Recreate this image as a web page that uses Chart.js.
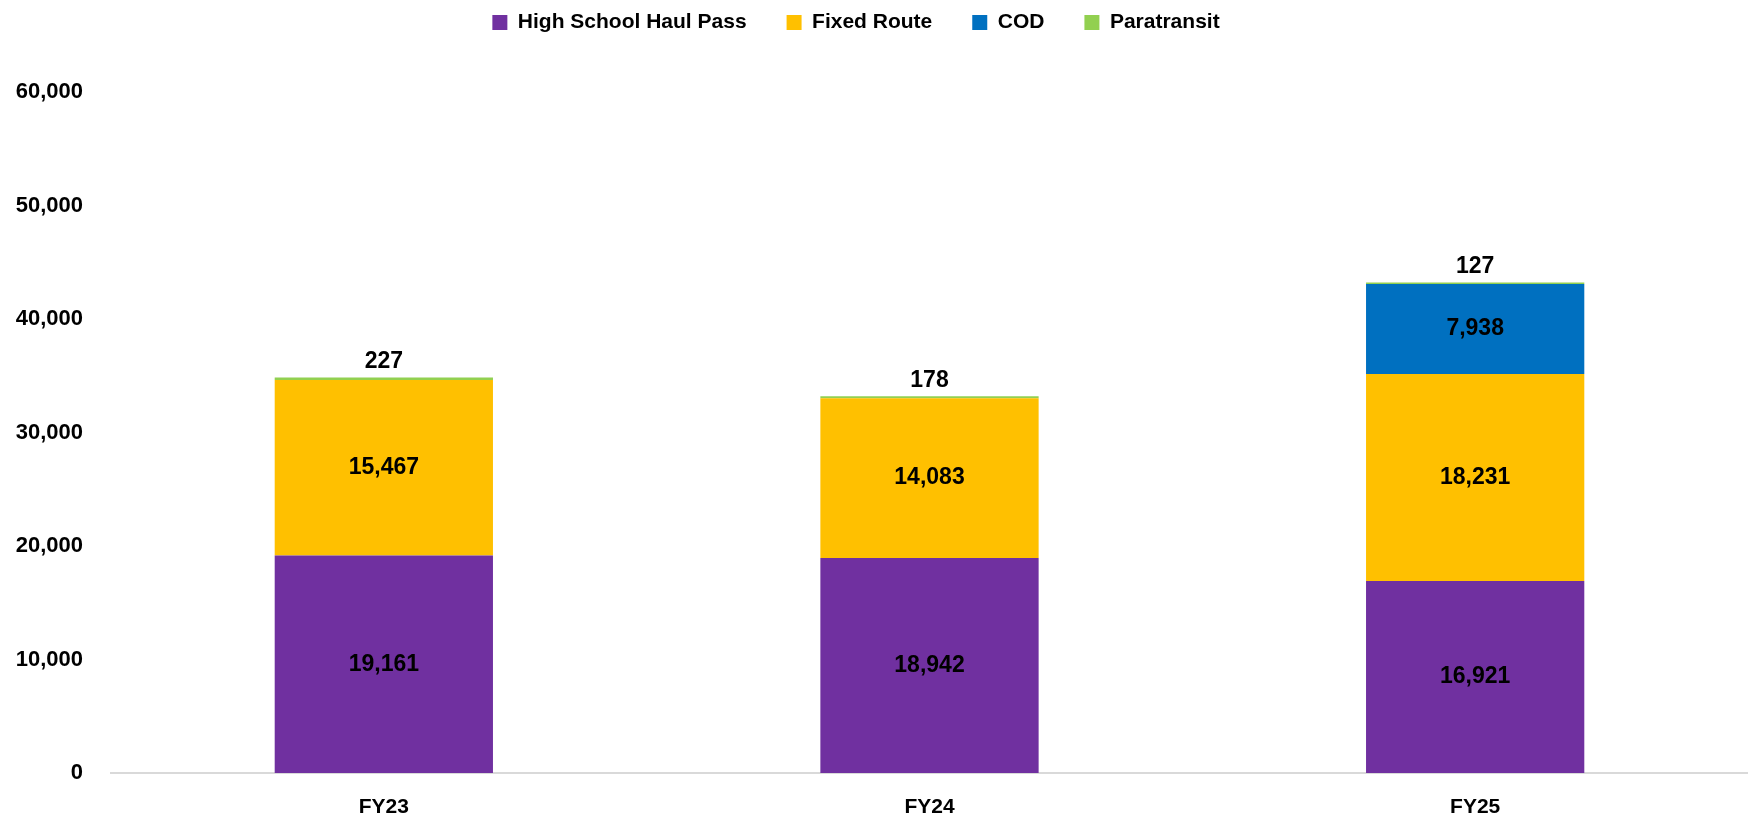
<!DOCTYPE html>
<html>
<head>
<meta charset="utf-8">
<script src="https://cdn.jsdelivr.net/npm/chart.js@4"></script>
<style>
  html, body { margin: 0; padding: 0; background: #fff; }
  #wrap { width: 1748px; height: 822px; }
</style>
</head>
<body>
<div id="wrap"><canvas id="chartBar"></canvas></div>
<script>
const categories = ['FY23', 'FY24', 'FY25'];
const highSchoolHaulPass = [19161, 18942, 16921];
const fixedRoute = [15467, 14083, 18231];
const cod = [0, 0, 7938];
const paratransit = [227, 178, 127];
const yMax = 60000;
const yStep = 10000;

const fontFamily = "'Liberation Sans', Arial, sans-serif";

// labels inside the segments, the last series on top of the bar
const segmentLabels = {
  id: 'segmentLabels',
  afterDatasetsDraw(chart) {
    const ctx = chart.ctx;
    ctx.save();
    ctx.font = 'bold 23px ' + fontFamily;
    ctx.fillStyle = '#000';
    ctx.textAlign = 'center';
    const last = chart.data.datasets.length - 1;
    chart.data.datasets.forEach((ds, i) => {
      const meta = chart.getDatasetMeta(i);
      meta.data.forEach((bar, j) => {
        const v = ds.data[j];
        if (!v) return;
        const txt = v.toLocaleString('en-US');
        if (i === last) {
          ctx.textBaseline = 'bottom';
          ctx.fillText(txt, bar.x, bar.y - 4);
        } else {
          ctx.textBaseline = 'middle';
          ctx.fillText(txt, bar.x, (bar.y + bar.base) / 2);
        }
      });
    });
    ctx.restore();
  }
};

// extra room under the legend, and nudge it a bit left
const legendSpace = {
  id: 'legendSpace',
  beforeInit(chart) {
    const fit = chart.legend.fit;
    chart.legend.fit = function () {
      fit.bind(chart.legend)();
      this.height = 120;
      this.lineWidths[0] += 36;
    };
  }
};

const dataBar = {
  labels: categories,
  datasets: [
    { label: 'High School Haul Pass', data: highSchoolHaulPass, backgroundColor: '#7030A0' },
    { label: 'Fixed Route', data: fixedRoute, backgroundColor: '#FFC000' },
    { label: 'COD', data: cod, backgroundColor: '#0070C0' },
    { label: 'Paratransit', data: paratransit, backgroundColor: '#92D050' },
  ],
};

const configBar = {
  type: 'bar',
  data: dataBar,
  options: {
    responsive: true,
    maintainAspectRatio: false,
    animation: false,
    categoryPercentage: 1,
    barPercentage: 0.4,
    layout: { padding: { top: -28, left: 0, right: 0, bottom: 0 } },
    plugins: {
      legend: {
        position: 'top',
        labels: {
          boxWidth: 15,
          boxHeight: 15,
          padding: 40,
          color: '#000',
          font: { family: fontFamily, size: 21, weight: 'bold' },
        },
      },
      tooltip: { enabled: false },
    },
    scales: {
      x: {
        stacked: true,
        grid: { display: false, drawTicks: false },
        border: { display: true, color: '#D9D9D9', width: 2 },
        ticks: {
          color: '#000',
          padding: 24,
          font: { family: fontFamily, size: 21, weight: 'bold', lineHeight: 1 },
        },
        afterFit(scale) { scale.height = 49; },
      },
      y: {
        stacked: true,
        min: 0,
        max: yMax,
        grid: { display: false, drawTicks: false },
        border: { display: false },
        ticks: {
          stepSize: yStep,
          color: '#000',
          padding: 28,
          font: { family: fontFamily, size: 22, weight: 'bold' },
          callback: (v) => v.toLocaleString('en-US'),
        },
        afterFit(scale) { scale.width = 111; },
      },
    },
  },
  plugins: [segmentLabels, legendSpace],
};

const chartBar = new Chart(document.getElementById('chartBar'), configBar);
</script>
</body>
</html>
